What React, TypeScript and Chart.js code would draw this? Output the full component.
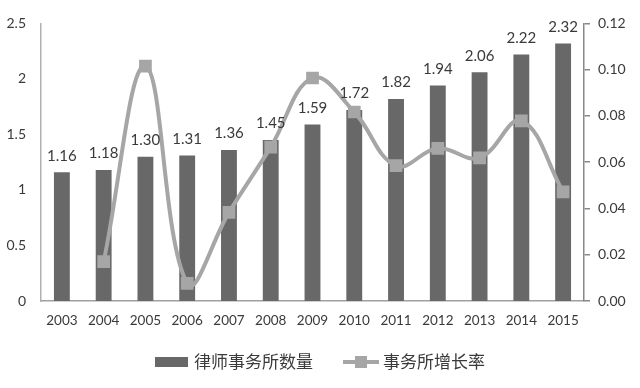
import React, { useEffect, useRef } from "react";
import { Chart, registerables } from "chart.js";

Chart.register(...registerables);

const years = ["2003", "2004", "2005", "2006", "2007", "2008", "2009", "2010", "2011", "2012", "2013", "2014", "2015"];
const firmCounts = [1.16, 1.18, 1.30, 1.31, 1.36, 1.45, 1.59, 1.72, 1.82, 1.94, 2.06, 2.22, 2.32];
const growthRates = [null, 0.017, 0.1015, 0.0076, 0.0383, 0.0665, 0.0964, 0.0817, 0.0585, 0.066, 0.0619, 0.0779, 0.0472];
const barLabel = "律师事务所数量";
const lineLabel = "事务所增长率";

const BAR_COLOR = "#686868";
const LINE_COLOR = "#a6a6a6";
const TEXT_COLOR = "#3a3a3a";
const NUM_FONT = "Lato, 'Liberation Sans', sans-serif";
const CJK_FONT = "'Noto Sans CJK SC', sans-serif";

const barLabelsPlugin = {
  id: "barLabels",
  afterDatasetsDraw(chart: any) {
    const ctx = chart.ctx;
    const meta = chart.getDatasetMeta(1);
    const data = chart.data.datasets[1].data;
    ctx.save();
    ctx.font = `15px ${NUM_FONT}`;
    ctx.fillStyle = TEXT_COLOR;
    ctx.textAlign = "center";
    ctx.textBaseline = "bottom";
    meta.data.forEach((el: any, i: number) => {
      ctx.fillText(Number(data[i]).toFixed(2), el.x, el.y - 9);
    });
    ctx.restore();
  },
};

const customLegendPlugin = {
  id: "customLegend",
  afterDraw(chart: any) {
    const ctx = chart.ctx;
    const y = 362;
    ctx.save();
    ctx.font = `17px ${CJK_FONT}`;
    const w1 = ctx.measureText(barLabel).width;
    const w2 = ctx.measureText(lineLabel).width;
    const boxW = 33;
    const lineW = 36;
    const total = boxW + 6 + w1 + 30 + lineW + 4 + w2;
    let x = (chart.width - total) / 2;
    ctx.fillStyle = BAR_COLOR;
    ctx.fillRect(x, y - 5, boxW, 10);
    x += boxW + 6;
    ctx.fillStyle = TEXT_COLOR;
    ctx.textBaseline = "middle";
    ctx.textAlign = "left";
    ctx.fillText(barLabel, x, y);
    x += w1 + 30;
    ctx.strokeStyle = LINE_COLOR;
    ctx.lineWidth = 4;
    ctx.beginPath();
    ctx.moveTo(x, y);
    ctx.lineTo(x + lineW, y);
    ctx.stroke();
    ctx.fillStyle = LINE_COLOR;
    ctx.fillRect(x + lineW / 2 - 6, y - 6, 12, 12);
    x += lineW + 4;
    ctx.fillStyle = TEXT_COLOR;
    ctx.fillText(lineLabel, x, y);
    ctx.restore();
  },
};

export default function App() {
  const ref = useRef<HTMLCanvasElement>(null);
  useEffect(() => {
    if (!ref.current) return;
    const chart = new Chart(ref.current, {
      type: "bar",
      data: {
        labels: years,
        datasets: [
          {
            type: "line",
            label: lineLabel,
            data: growthRates as any,
            yAxisID: "y1",
            borderColor: LINE_COLOR,
            borderWidth: 4,
            tension: 0.4,
            pointStyle: "rect",
            pointRadius: 9,
            pointBackgroundColor: LINE_COLOR,
            pointBorderColor: LINE_COLOR,
            pointBorderWidth: 0,
            order: 0,
          } as any,
          {
            type: "bar",
            label: barLabel,
            data: firmCounts,
            yAxisID: "y",
            backgroundColor: BAR_COLOR,
            barPercentage: 0.38,
            categoryPercentage: 1,
            order: 1,
          },
        ],
      },
      options: {
        responsive: false,
        animation: false,
        devicePixelRatio: 1,
        layout: { padding: { top: 16, bottom: 57, left: 0, right: 0 } },
        plugins: {
          legend: { display: false },
          tooltip: { enabled: false },
        },
        scales: {
          x: {
            grid: { display: false, drawTicks: false },
            border: { display: true, color: "#a0a0a0", width: 1.5 },
            ticks: { color: TEXT_COLOR, font: { family: NUM_FONT, size: 13.5 }, padding: 12, maxRotation: 0 },
            afterFit(scale: any) {
              scale.height = 30;
            },
          },
          y: {
            position: "left",
            min: 0,
            max: 2.5,
            grid: { display: false, drawTicks: false },
            border: { display: true, color: "#b0b0b0", width: 1.5 },
            ticks: {
              stepSize: 0.5,
              color: TEXT_COLOR,
              font: { family: NUM_FONT, size: 14 },
              padding: 15,
              callback: (v: any) => String(Math.round(Number(v) * 10) / 10),
            },
            afterFit(scale: any) {
              scale.width = 41;
            },
          },
          y1: {
            position: "right",
            min: 0,
            max: 0.12,
            grid: { display: true, drawOnChartArea: false, drawTicks: true, tickLength: 6, color: "#888888", lineWidth: 1.5 },
            border: { display: true, color: "#888888", width: 1.5 },
            ticks: {
              stepSize: 0.02,
              color: TEXT_COLOR,
              font: { family: NUM_FONT, size: 14 },
              padding: 8,
              callback: (v: any) => Number(v).toFixed(2),
            },
            afterFit(scale: any) {
              scale.width = 56;
            },
          },
        },
      },
      plugins: [barLabelsPlugin, customLegendPlugin],
    });
    return () => chart.destroy();
  }, []);
  return (
    <div style={{ position: "fixed", left: 0, top: 0, width: 640, height: 388, background: "#fff" }}>
      <canvas ref={ref} width={640} height={388} />
    </div>
  );
}
